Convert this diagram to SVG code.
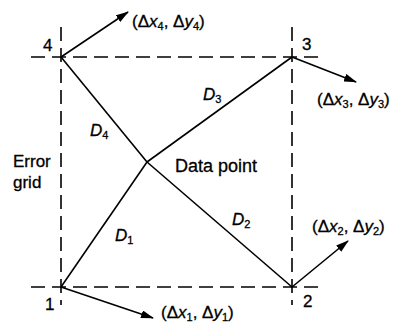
<svg xmlns="http://www.w3.org/2000/svg" width="393" height="325" viewBox="0 0 393 325">
<defs>
<marker id="ah" markerWidth="13" markerHeight="8" refX="12" refY="4" orient="auto" markerUnits="userSpaceOnUse">
<path d="M0,0 L13,4 L0,8 Z" fill="#000"/>
</marker>
</defs>
<style>
.grid{stroke:#000;stroke-width:1.6;stroke-dasharray:14,7;fill:none}
.ln{stroke:#000;stroke-width:1.6;fill:none}
.ar{stroke:#000;stroke-width:1.6;fill:none;marker-end:url(#ah)}
text{font-family:"Liberation Sans",Arial,sans-serif;font-size:17px;fill:#000;stroke:#000;stroke-width:0.3}
.it{font-style:italic}
.sub{font-size:11px}
</style>
<rect width="393" height="325" fill="#fff"/>
<g id="connectors">
<line class="grid" x1="31" y1="57" x2="322" y2="57"/>
<line class="grid" x1="31" y1="287" x2="322" y2="287"/>
<line class="grid" x1="61" y1="27" x2="61" y2="305"/>
<line class="grid" x1="292" y1="27" x2="292" y2="305"/>
<line class="ln" x1="61" y1="57" x2="147" y2="162"/>
<line class="ln" x1="147" y1="162" x2="292" y2="287"/>
<line class="ln" x1="61" y1="287" x2="147" y2="162"/>
<line class="ln" x1="147" y1="162" x2="292" y2="57"/>
<line class="ar" x1="61" y1="57" x2="128" y2="12"/>
<line class="ar" x1="292" y1="57" x2="356" y2="82"/>
<line class="ar" x1="61" y1="287" x2="153" y2="318"/>
<line class="ar" x1="292" y1="287" x2="348" y2="241"/>
</g>
<g id="corner4"><text x="43" y="51">4</text></g>
<g id="corner3"><text x="302" y="50">3</text></g>
<g id="corner1"><text x="45" y="310">1</text></g>
<g id="corner2"><text x="303" y="307">2</text></g>
<g id="label4"><text x="132" y="27">(Δ<tspan class="it">x</tspan><tspan class="sub" dy="3">4</tspan><tspan dy="-3">, Δ</tspan><tspan class="it">y</tspan><tspan class="sub" dy="3">4</tspan><tspan dy="-3">)</tspan></text></g>
<g id="label3"><text x="317" y="105">(Δ<tspan class="it">x</tspan><tspan class="sub" dy="3">3</tspan><tspan dy="-3">, Δ</tspan><tspan class="it">y</tspan><tspan class="sub" dy="3">3</tspan><tspan dy="-3">)</tspan></text></g>
<g id="label2"><text x="312" y="232">(Δ<tspan class="it">x</tspan><tspan class="sub" dy="3">2</tspan><tspan dy="-3">, Δ</tspan><tspan class="it">y</tspan><tspan class="sub" dy="3">2</tspan><tspan dy="-3">)</tspan></text></g>
<g id="label1"><text x="161" y="318">(Δ<tspan class="it">x</tspan><tspan class="sub" dy="3">1</tspan><tspan dy="-3">, Δ</tspan><tspan class="it">y</tspan><tspan class="sub" dy="3">1</tspan><tspan dy="-3">)</tspan></text></g>
<g id="d1"><text x="115" y="241" class="it">D<tspan class="sub" dy="3" style="font-style:normal">1</tspan></text></g>
<g id="d2"><text x="232" y="225" class="it">D<tspan class="sub" dy="3" style="font-style:normal">2</tspan></text></g>
<g id="d3"><text x="203" y="100" class="it">D<tspan class="sub" dy="3" style="font-style:normal">3</tspan></text></g>
<g id="d4"><text x="90" y="136" class="it">D<tspan class="sub" dy="3" style="font-style:normal">4</tspan></text></g>
<g id="datapoint"><text x="175" y="172" style="font-size:18px">Data point</text></g>
<g id="errorgrid"><text x="13" y="167">Error</text><text x="13" y="188">grid</text></g>
</svg>
